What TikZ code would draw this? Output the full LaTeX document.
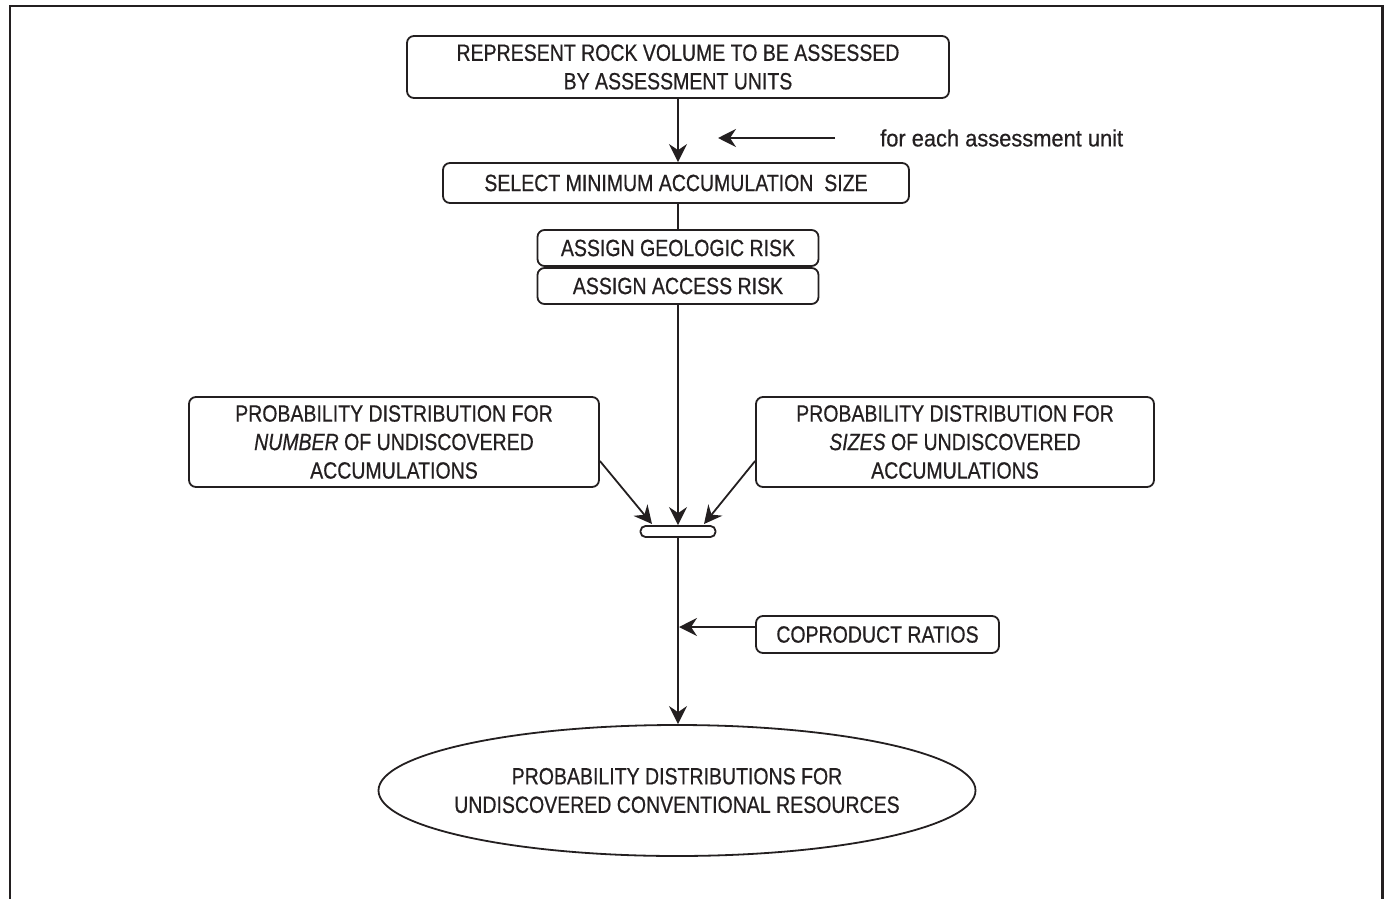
\documentclass[tikz,border=0pt]{standalone}
\usepackage{fontspec}
\setmainfont[FakeStretch=0.83,FakeBold=0.6]{Liberation Sans}
\newfontfamily\lcfont[FakeStretch=0.93,FakeBold=0.6]{Liberation Sans}
\usetikzlibrary{arrows.meta,shapes.geometric}
\definecolor{ink}{HTML}{231F20}
\begin{document}
\begin{tikzpicture}[x=1pt,y=-1pt,
  every node/.style={font=\fontsize{23.5}{28.5}\selectfont, text=ink},
  box/.style={draw=ink, rounded corners=7pt, line width=1.8pt, align=center, inner sep=0pt},
  conn/.style={draw=ink, line width=1.8pt},
  arr/.style={conn, -{Stealth[length=18pt,width=18pt,inset=6pt]}},
]
\useasboundingbox (0,0) rectangle (1384,899);
% frame
\draw[ink, line width=2.5pt] (10,899) -- (10,6) -- (1382.5,6) -- (1382.5,899);

\node[box, minimum width=542, minimum height=62] (rep) at (678,67)
  {REPRESENT ROCK VOLUME TO BE ASSESSED\\BY ASSESSMENT UNITS};
\node[box, minimum width=466, minimum height=40] (sel) at (676,183)
  {SELECT MINIMUM ACCUMULATION\ \ SIZE};
\node[box, minimum width=281, minimum height=36] (geo) at (678,248)
  {ASSIGN GEOLOGIC RISK};
\node[box, minimum width=281, minimum height=36] (acc) at (678,286)
  {ASSIGN ACCESS RISK};
\node[box, minimum width=410, minimum height=90] (num) at (394,442)
  {PROBABILITY DISTRIBUTION FOR\\\textit{NUMBER} OF UNDISCOVERED\\ACCUMULATIONS};
\node[box, minimum width=398, minimum height=90] (siz) at (955,442)
  {PROBABILITY DISTRIBUTION FOR\\\textit{SIZES} OF UNDISCOVERED\\ACCUMULATIONS};
\node[box, rounded corners=5pt, minimum width=75, minimum height=11] (bar) at (678,531.5) {};
\node[box, minimum width=243, minimum height=37] (cop) at (877.5,634.5)
  {COPRODUCT RATIOS};
\node[draw=ink, line width=1.8pt, ellipse, align=center, minimum width=597, minimum height=131, inner xsep=-14pt, inner ysep=0pt] (res) at (677,790.5)
  {PROBABILITY DISTRIBUTIONS FOR\\UNDISCOVERED CONVENTIONAL RESOURCES};

\node[anchor=west, inner sep=0pt, font=\lcfont\fontsize{23.5}{28.5}\selectfont] (fe) at (880,138) {for each assessment unit};
\coordinate (feend) at (718,138);
\coordinate (barL) at (652,524);
\coordinate (barR) at (704,524);
\coordinate (copend) at (679,627);

\draw[arr] (rep.south) -- (sel.north -| rep.south);
\draw[arr] ([xshift=-45pt]fe.west) -- (feend);
\draw[conn] (sel.south -| geo.north) -- (geo.north);
\draw[arr] (acc.south) -- (bar.north);
\draw[arr] (num.east |- 0,461) -- (barL);
\draw[arr] (siz.west |- 0,461) -- (barR);
\draw[arr] (bar.south) -- (res.north -| bar.south);
\draw[arr] (cop.west |- copend) -- (copend);
\end{tikzpicture}
\end{document}
